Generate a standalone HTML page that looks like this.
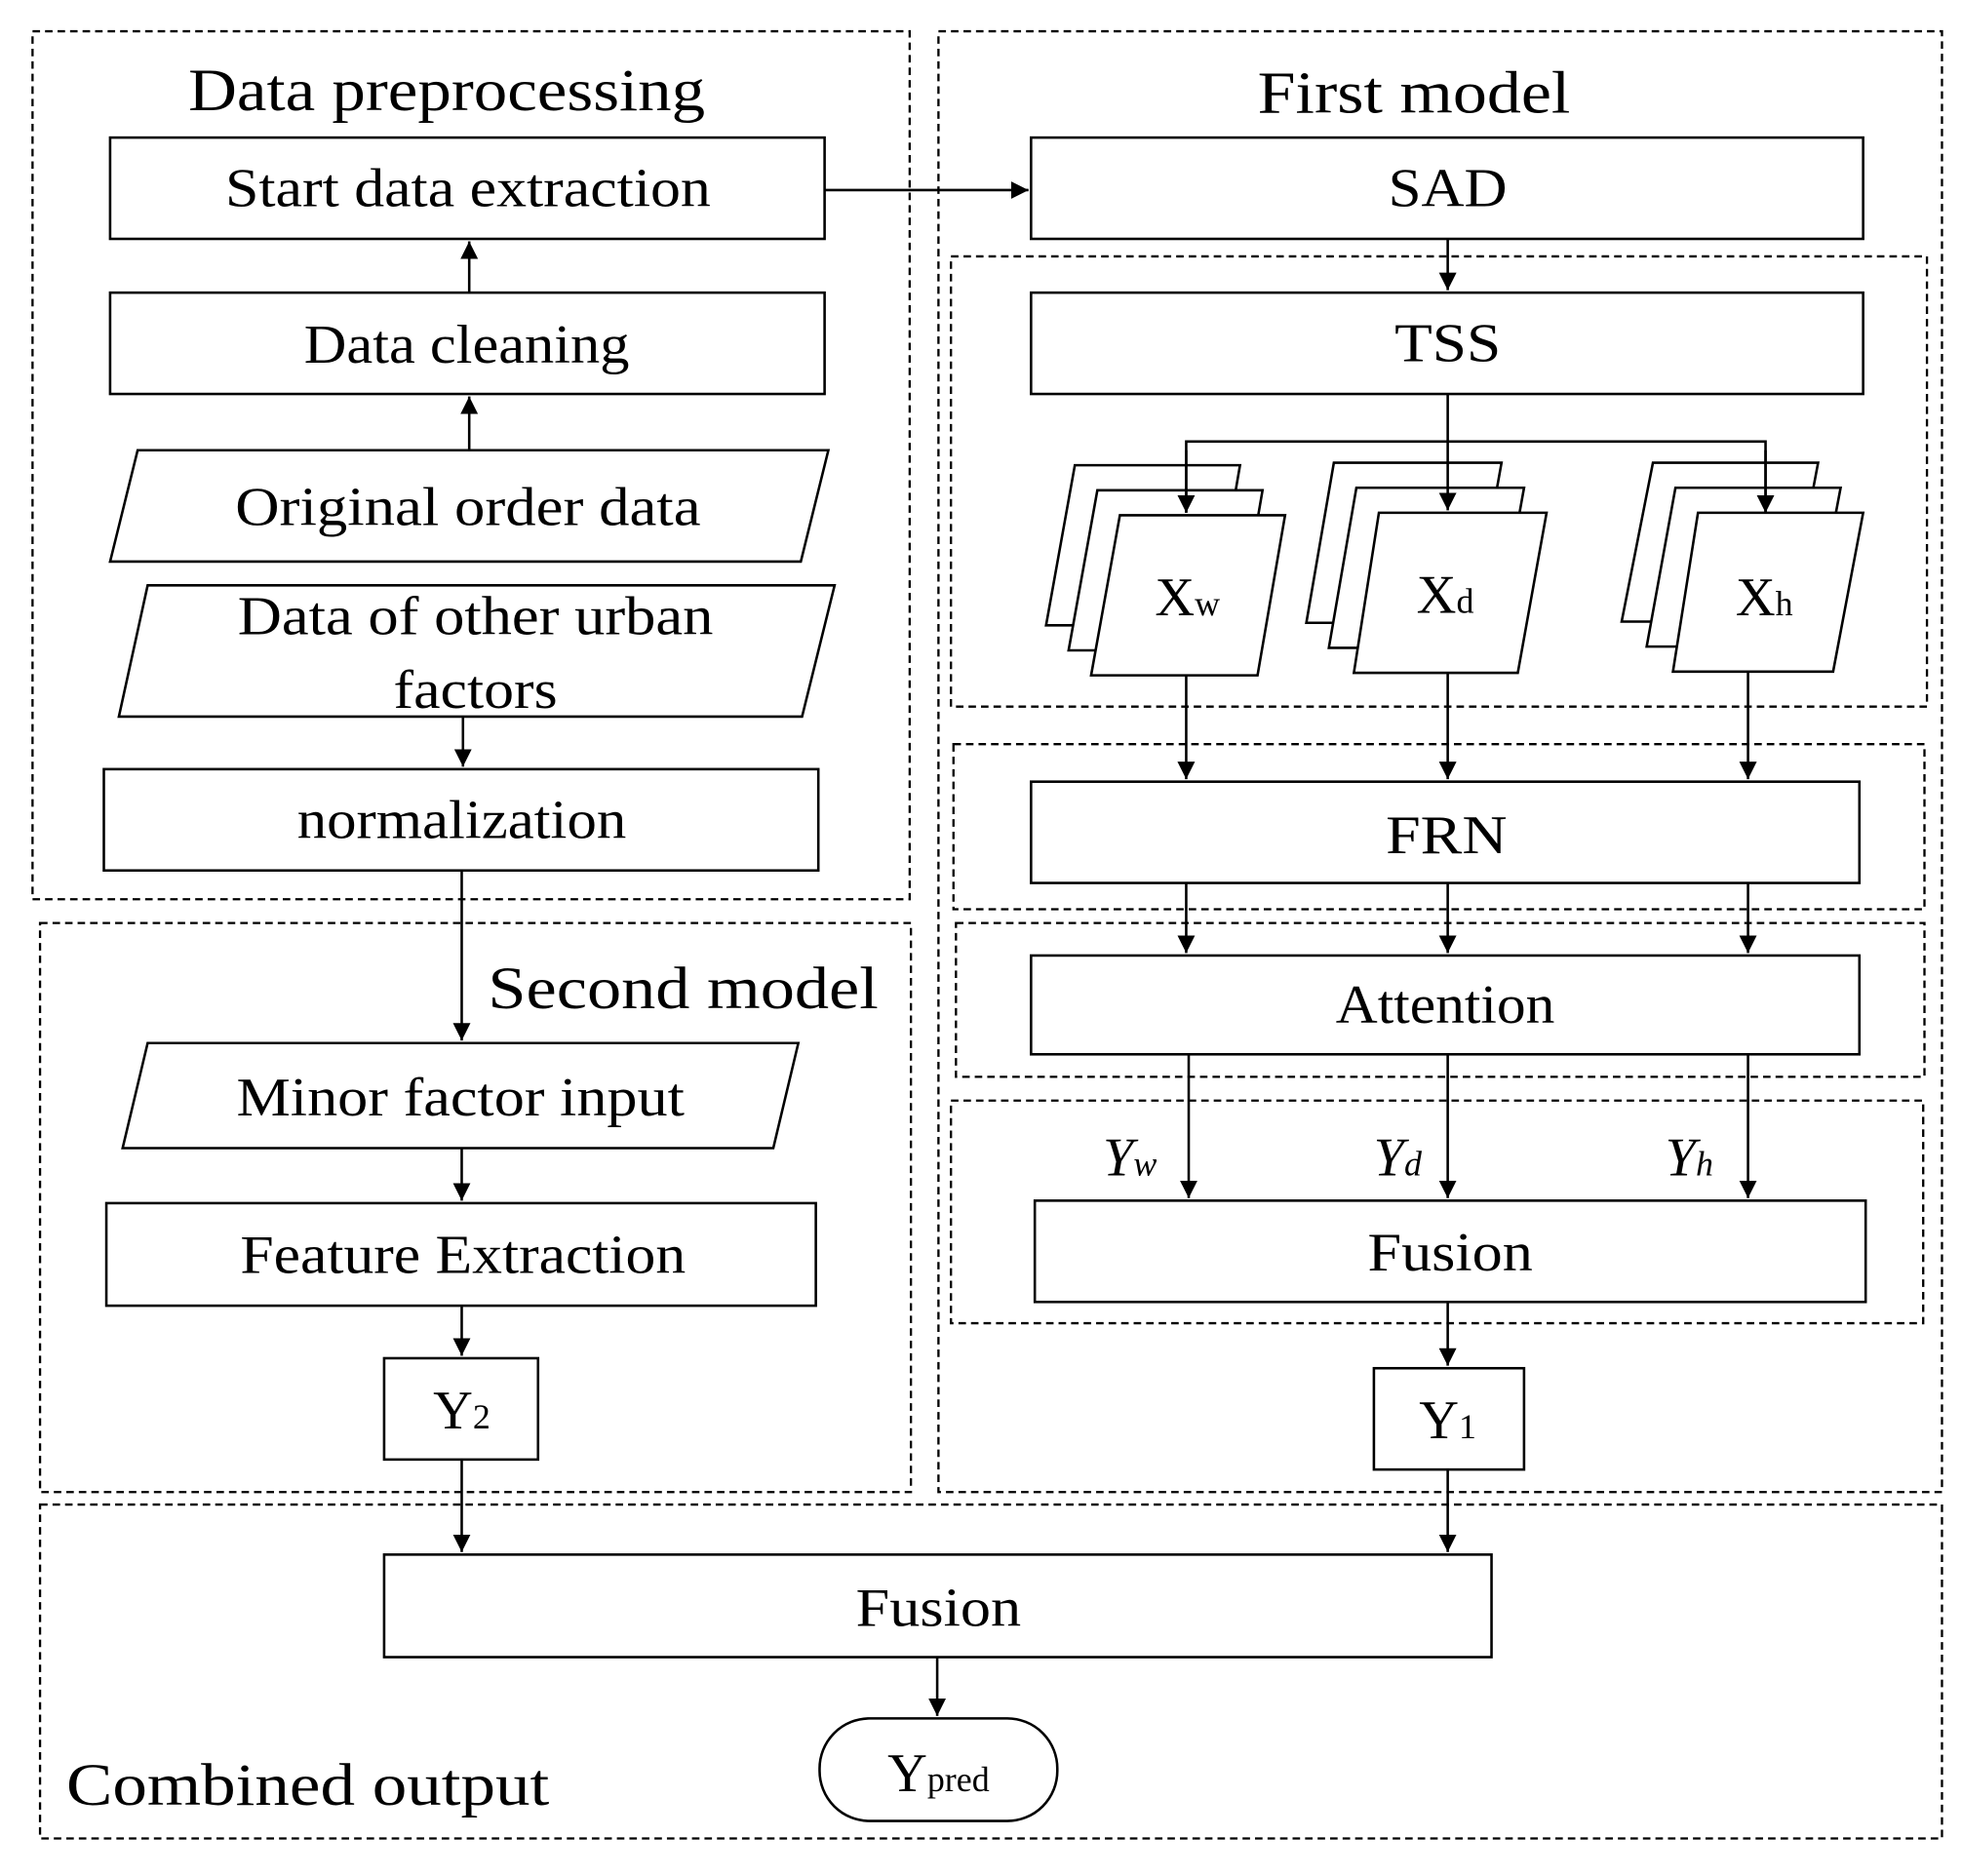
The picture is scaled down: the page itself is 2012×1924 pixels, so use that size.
<!DOCTYPE html>
<html><head><meta charset="utf-8"><style>html,body{margin:0;padding:0;background:#fff}svg{display:block}</style></head><body>
<svg width="2012" height="1924" viewBox="0 0 1568 1500" preserveAspectRatio="none" xmlns="http://www.w3.org/2000/svg" font-family="Liberation Serif, serif">
<defs><marker id="a" viewBox="0 0 10 10" refX="10" refY="5" markerWidth="7" markerHeight="7" orient="auto"><path d="M0,0L10,5L0,10z" fill="#000"/></marker></defs>
<g fill="none" stroke="#000" stroke-width="1.8" stroke-dasharray="6,4">
<rect x="26" y="25" width="701" height="694"/>
<rect x="750" y="25" width="802" height="1168"/>
<rect x="32" y="738" width="696" height="455"/>
<rect x="32" y="1203" width="1520" height="267"/>
<rect x="760" y="205" width="780" height="360"/>
<rect x="762" y="595" width="776" height="132"/>
<rect x="764" y="738" width="774" height="123"/>
<rect x="760" y="880" width="777" height="178"/>
</g>
<g fill="#fff" stroke="#000" stroke-width="2">
<rect x="88" y="110" width="571" height="81"/>
<rect x="88" y="234" width="571" height="81"/>
<polygon points="110,360 662,360 640,449 88,449"/>
<polygon points="118,468 667,468 641,573 95,573"/>
<rect x="83" y="615" width="571" height="81"/>
<polygon points="118,834 638,834 618,918 98,918"/>
<rect x="85" y="962" width="567" height="82"/>
<rect x="307" y="1086" width="123" height="81"/>
<rect x="824" y="110" width="665" height="81"/>
<rect x="824" y="234" width="665" height="81"/>
<polygon points="859,372 991,372 969,500 836,500"/>
<polygon points="877,392 1009,392 987,520 854,520"/>
<polygon points="895,412 1027,412 1005,540 872,540"/>
<polygon points="1066,370 1200,370 1177,498 1044,498"/>
<polygon points="1084,390 1218,390 1195,518 1062,518"/>
<polygon points="1102,410 1236,410 1213,538 1082,538"/>
<polygon points="1321,370 1453,370 1429,497 1296,497"/>
<polygon points="1339,390 1471,390 1447,517 1316,517"/>
<polygon points="1357,410 1489,410 1465,537 1337,537"/>
<rect x="824" y="625" width="662" height="81"/>
<rect x="824" y="764" width="662" height="79"/>
<rect x="827" y="960" width="664" height="81"/>
<rect x="1098" y="1094" width="120" height="81"/>
<rect x="307" y="1243" width="885" height="82"/>
<rect x="655" y="1374" width="190" height="82" rx="40"/>
</g>
<g stroke="#000" stroke-width="2" fill="none">
<line x1="375" y1="234" x2="375" y2="193" marker-end="url(#a)"/>
<line x1="375" y1="359" x2="375" y2="317" marker-end="url(#a)"/>
<line x1="370" y1="573" x2="370" y2="613" marker-end="url(#a)"/>
<line x1="369" y1="696" x2="369" y2="832" marker-end="url(#a)"/>
<line x1="369" y1="918" x2="369" y2="960" marker-end="url(#a)"/>
<line x1="369" y1="1044" x2="369" y2="1084" marker-end="url(#a)"/>
<line x1="369" y1="1167" x2="369" y2="1241" marker-end="url(#a)"/>
<line x1="659" y1="152" x2="822" y2="152" marker-end="url(#a)"/>
<line x1="1157" y1="191" x2="1157" y2="232" marker-end="url(#a)"/>
<line x1="1157" y1="315" x2="1157" y2="408" marker-end="url(#a)"/>
<polyline points="948,410 948,353 1411,353 1411,410"/>
<line x1="948" y1="360" x2="948" y2="410" marker-end="url(#a)"/>
<line x1="1411" y1="360" x2="1411" y2="410" marker-end="url(#a)"/>
<line x1="948" y1="540" x2="948" y2="623" marker-end="url(#a)"/>
<line x1="1157" y1="538" x2="1157" y2="623" marker-end="url(#a)"/>
<line x1="1397" y1="537" x2="1397" y2="623" marker-end="url(#a)"/>
<line x1="948" y1="706" x2="948" y2="762" marker-end="url(#a)"/>
<line x1="1157" y1="706" x2="1157" y2="762" marker-end="url(#a)"/>
<line x1="1397" y1="706" x2="1397" y2="762" marker-end="url(#a)"/>
<line x1="950" y1="843" x2="950" y2="958" marker-end="url(#a)"/>
<line x1="1157" y1="843" x2="1157" y2="958" marker-end="url(#a)"/>
<line x1="1397" y1="843" x2="1397" y2="958" marker-end="url(#a)"/>
<line x1="1157" y1="1041" x2="1157" y2="1092" marker-end="url(#a)"/>
<line x1="1157" y1="1175" x2="1157" y2="1241" marker-end="url(#a)"/>
<line x1="749" y1="1325" x2="749" y2="1372" marker-end="url(#a)"/>
</g>
<g font-size="44" text-anchor="middle" fill="#000">
<text x="357" y="88" font-size="48" textLength="413" lengthAdjust="spacingAndGlyphs">Data preprocessing</text>
<text x="1130" y="90" font-size="48" textLength="250" lengthAdjust="spacingAndGlyphs">First model</text>
<text x="546" y="806" font-size="48" textLength="312" lengthAdjust="spacingAndGlyphs">Second model</text>
<text x="374" y="165" textLength="388" lengthAdjust="spacingAndGlyphs">Start data extraction</text>
<text x="373" y="290" textLength="260" lengthAdjust="spacingAndGlyphs">Data cleaning</text>
<text x="374" y="420" textLength="372" lengthAdjust="spacingAndGlyphs">Original  order data</text>
<text x="380" y="507" textLength="380" lengthAdjust="spacingAndGlyphs">Data of other urban</text>
<text x="380" y="566" textLength="131" lengthAdjust="spacingAndGlyphs">factors</text>
<text x="369" y="670" textLength="263" lengthAdjust="spacingAndGlyphs">normalization</text>
<text x="368" y="892" textLength="358" lengthAdjust="spacingAndGlyphs">Minor factor input</text>
<text x="370" y="1018" textLength="356" lengthAdjust="spacingAndGlyphs">Feature Extraction</text>
<text x="369" y="1142">Y<tspan font-size="28">2</tspan></text>
<text x="1157" y="165" textLength="95" lengthAdjust="spacingAndGlyphs">SAD</text>
<text x="1157" y="289" textLength="85" lengthAdjust="spacingAndGlyphs">TSS</text>
<text x="949" y="492">X<tspan font-size="28">w</tspan></text>
<text x="1155" y="490">X<tspan font-size="28">d</tspan></text>
<text x="1410" y="492">X<tspan font-size="28">h</tspan></text>
<text x="1156" y="682" textLength="97" lengthAdjust="spacingAndGlyphs">FRN</text>
<text x="1155" y="818" textLength="175" lengthAdjust="spacingAndGlyphs">Attention</text>
<text x="1159" y="1016" textLength="132" lengthAdjust="spacingAndGlyphs">Fusion</text>
<text x="1157" y="1150">Y<tspan font-size="28">1</tspan></text>
<text x="750" y="1300" textLength="132" lengthAdjust="spacingAndGlyphs">Fusion</text>
<text x="750" y="1432">Y<tspan font-size="28">pred</tspan></text>
<g font-style="italic"><text x="903" y="940">Y<tspan font-size="28">w</tspan></text>
<text x="1117" y="940">Y<tspan font-size="28">d</tspan></text>
<text x="1350" y="940">Y<tspan font-size="28">h</tspan></text></g>
<text x="53" y="1443" text-anchor="start" font-size="48" textLength="386" lengthAdjust="spacingAndGlyphs">Combined  output</text>
</g>
</svg>
</body></html>
